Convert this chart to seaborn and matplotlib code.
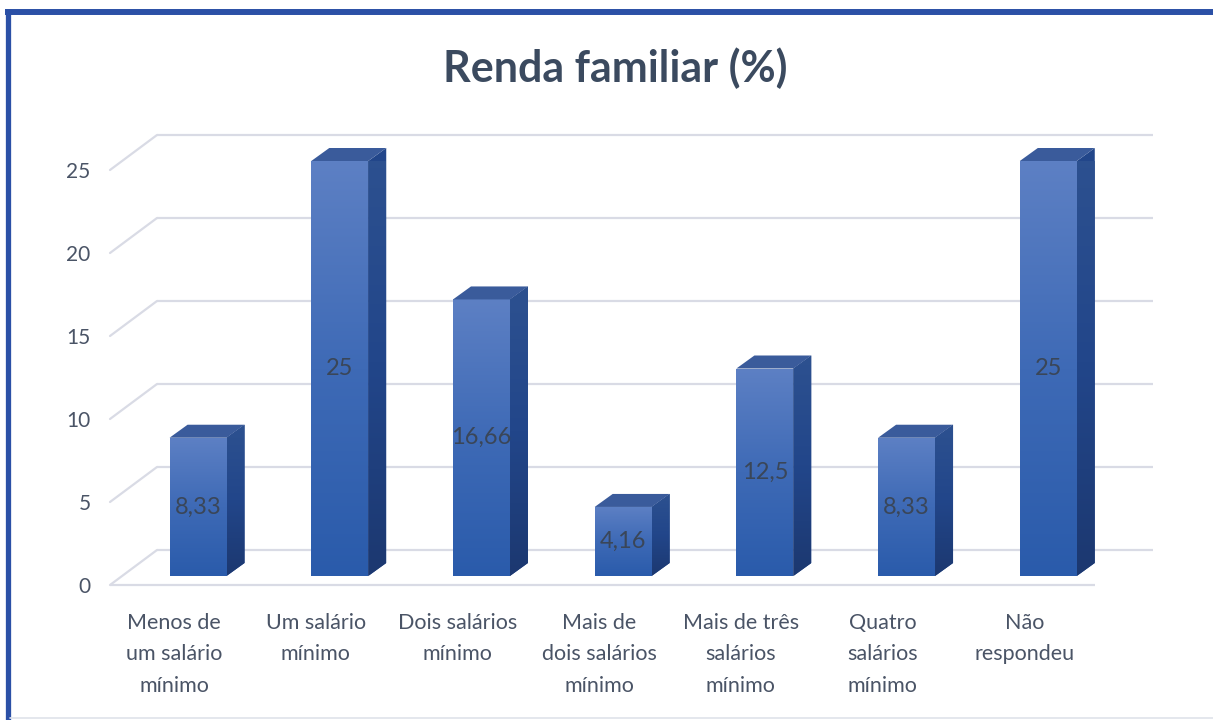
import numpy as np
import pandas as pd
import matplotlib
matplotlib.use("Agg")
import matplotlib.pyplot as plt
import seaborn as sns
from matplotlib.patches import Polygon
from matplotlib.lines import Line2D
from matplotlib.colors import LinearSegmentedColormap

# ---------------- data ----------------
categories = [
    "Menos de\num salário\nmínimo",
    "Um salário\nmínimo",
    "Dois salários\nmínimo",
    "Mais de\ndois salários\nmínimo",
    "Mais de três\nsalários\nmínimo",
    "Quatro\nsalários\nmínimo",
    "Não\nrespondeu",
]
values = [8.33, 25, 16.66, 4.16, 12.5, 8.33, 25]
value_labels = ["8,33", "25", "16,66", "4,16", "12,5", "8,33", "25"]
y_ticks = [0, 5, 10, 15, 20, 25]
title = "Renda familiar (%)"

# ---------------- style ----------------
W, H = 1213, 720
sns.set_theme(style="white")
plt.rcParams["font.family"] = ["Lato", "DejaVu Sans"]

grid_color = "#d9dbe5"
text_color = "#4a5466"
front_cmap = LinearSegmentedColormap.from_list("front", ["#2a5bab", "#3e6ab6", "#5d80c4"])
side_cmap = LinearSegmentedColormap.from_list("side", ["#1c3870", "#22468a", "#2d5190"])
top_color = "#3a5b9b"

fig = plt.figure(figsize=(W / 100, H / 100), dpi=100)
fig.patch.set_facecolor("white")


def rect(left, top, right, bottom):
    return [left / W, 1 - bottom / H, (right - left) / W, (bottom - top) / H]


YMAX = y_ticks[-1]
xlo, xhi = -0.452, 6.499

# back wall with gridlines
ax_back = fig.add_axes(rect(157, 135, 1153, 550))
ax_back.set_xlim(0, 1)
ax_back.set_ylim(0, YMAX)
ax_back.axis("off")
ax_back.hlines(y_ticks, 0, 1, color=grid_color, lw=1.6, clip_on=False)

# front plane: tick labels + floor edge
ax = fig.add_axes(rect(110, 170, 1095, 585))
ax.patch.set_alpha(0)
ax.set_xlim(xlo, xhi)
ax.set_ylim(0, YMAX)
for s in ax.spines.values():
    s.set_visible(False)
ax.set_yticks(y_ticks)
ax.set_yticklabels([str(t) for t in y_ticks])
ax.set_xticks(range(len(categories)))
ax.set_xticklabels(categories, linespacing=1.72)
ax.tick_params(axis="y", length=0, pad=14, labelsize=15, labelcolor=text_color)
ax.tick_params(axis="x", length=0, pad=20, labelsize=15.5, labelcolor=text_color)
ax.hlines(0, xlo, xhi, color=grid_color, lw=1.6, clip_on=False)

# diagonal side-wall lines from front to back
inv = fig.transFigure.inverted()
for v in y_ticks:
    pf = ax.transData.transform((xlo, v))
    pb = ax_back.transData.transform((0, v))
    pts = inv.transform([pf, pb])
    fig.add_artist(Line2D(pts[:, 0], pts[:, 1], color=grid_color, lw=1.6,
                          transform=fig.transFigure))

# bar plane (slightly behind the front plane)
ax_bar = fig.add_axes(rect(134, 161, 1119, 576))
df = pd.DataFrame({"categoria": categories, "valor": values})
sns.barplot(data=df, x="categoria", y="valor", ax=ax_bar, width=0.402,
            color="#3e6ab6", saturation=1, errorbar=None, linewidth=0)
ax_bar.patch.set_alpha(0)
ax_bar.axis("off")

bbox = ax_bar.get_window_extent()
ux = (xhi - xlo) / bbox.width
uy = YMAX / bbox.height
dx, dy = 18 * ux, 13 * uy

grad = np.linspace(0, 1, 256).reshape(-1, 1)
for p in list(ax_bar.patches):
    x0, w, h = p.get_x(), p.get_width(), p.get_height()
    x1 = x0 + w
    im = ax_bar.imshow(grad, extent=(x0, x1, 0, h), aspect="auto", cmap=front_cmap,
                       origin="lower", zorder=p.get_zorder() + 0.1)
    im.set_clip_path(p)
    side = Polygon([(x1, 0), (x1 + dx, dy), (x1 + dx, h + dy), (x1, h)], closed=True,
                   facecolor="#22468a", edgecolor="none", clip_on=False)
    ax_bar.add_patch(side)
    ims = ax_bar.imshow(grad, extent=(x1, x1 + dx, 0, h + dy), aspect="auto",
                        cmap=side_cmap, origin="lower", zorder=p.get_zorder() + 0.1)
    ims.set_clip_path(side)
    top = Polygon([(x0, h), (x1, h), (x1 + dx, h + dy), (x0 + dx, h + dy)], closed=True,
                  facecolor=top_color, edgecolor="none", clip_on=False,
                  zorder=p.get_zorder() + 0.2)
    ax_bar.add_patch(top)

ax_bar.set_xlim(xlo, xhi)
ax_bar.set_ylim(0, YMAX)

ax_bar.bar_label(ax_bar.containers[0], labels=value_labels, label_type="center",
                 fontsize=17, color="#3a4658", zorder=5)

# title
fig.text(615 / W, 1 - 68 / H, title, ha="center", va="center", fontsize=31,
         fontweight="bold", color="#3b4a5f")

# frame
frame_blue = "#2b50a6"
fig.add_artist(Line2D([5 / W, 1.0], [1 - 12 / H, 1 - 12 / H], color=frame_blue, lw=4.3,
                      transform=fig.transFigure, solid_capstyle="butt"))
fig.add_artist(Line2D([8 / W, 8 / W], [1 - 9 / H, 0.0], color=frame_blue, lw=3.8,
                      transform=fig.transFigure, solid_capstyle="butt"))
fig.add_artist(Line2D([10 / W, 1.0], [1 - 718 / H, 1 - 718 / H], color="#dfe3ea", lw=1.2,
                      transform=fig.transFigure))

fig.savefig("out.png", dpi=100, facecolor="white")
